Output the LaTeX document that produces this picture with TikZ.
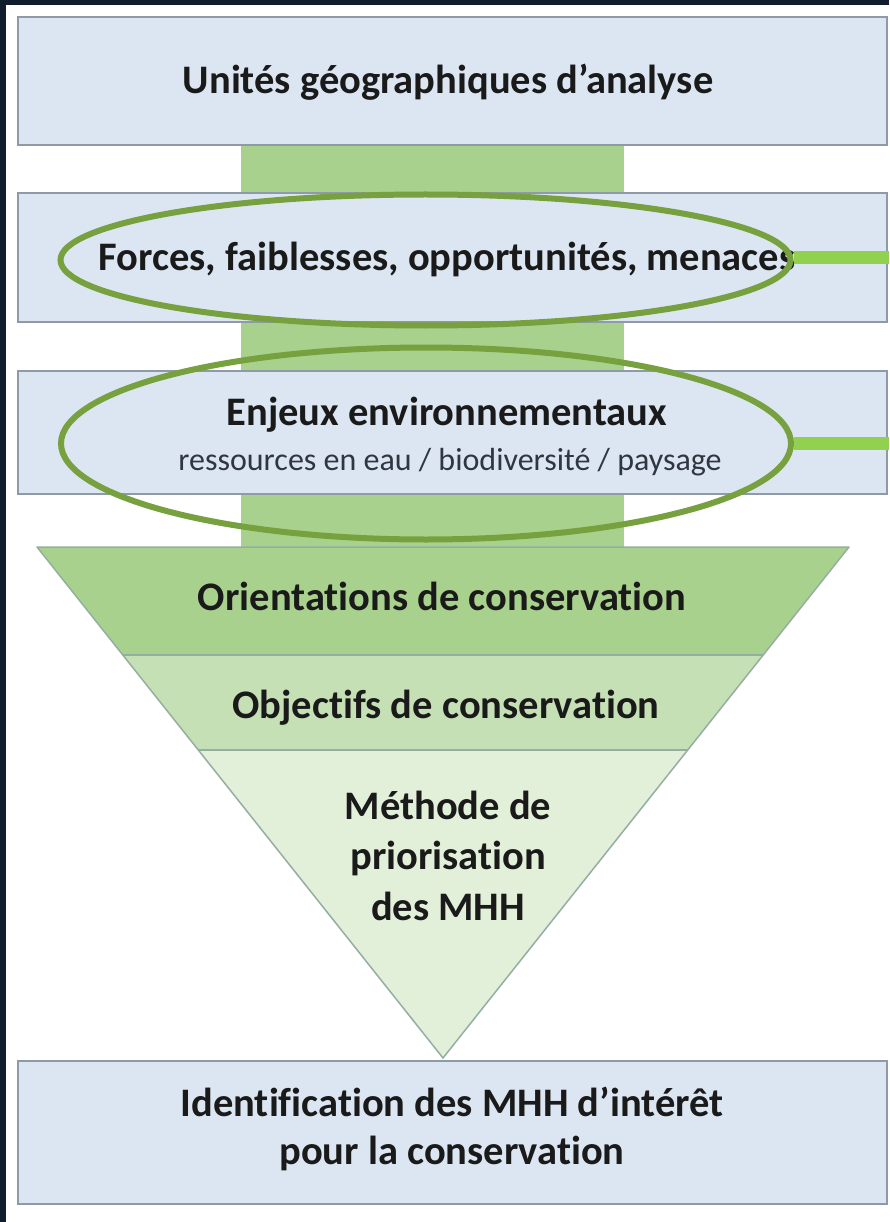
\documentclass[tikz,border=0pt]{standalone}
\usepackage{fontspec}
\setmainfont[Ligatures={NoCommon}]{Carlito}
\usetikzlibrary{shapes.geometric,calc}
\definecolor{navy}{HTML}{0F1D2C}
\definecolor{boxfill}{HTML}{DCE6F2}
\definecolor{boxline}{HTML}{8E9AA6}
\definecolor{bandgreen}{HTML}{A9D18E}
\definecolor{midgreen}{HTML}{C5E0B4}
\definecolor{lightgreen}{HTML}{E2EFD9}
\definecolor{ringgreen}{HTML}{77A03F}
\definecolor{linkgreen}{HTML}{92D050}
\definecolor{trline}{HTML}{94AFA0}
\definecolor{txt}{HTML}{1A1A1A}
\definecolor{subtxt}{HTML}{303640}
\tikzset{
  box/.style={draw=boxline, line width=2pt, fill=boxfill, inner sep=0pt, minimum width=869pt},
  lbl/.style={anchor=base, inner sep=0pt, text=txt, font=\fontsize{40.5}{46}\selectfont\bfseries},
  sublbl/.style={anchor=base, inner sep=0pt, text=subtxt, font=\fontsize{32}{36}\selectfont},
  ring/.style={ellipse, draw=ringgreen, line width=6pt, inner sep=0pt, minimum width=730pt},
  link/.style={draw=linkgreen, line width=13pt},
}
\begin{document}
\begin{tikzpicture}[x=1pt,y=-1pt]
\fill[navy] (0,0) rectangle (889,1222);
\fill[white] (6,5) rectangle (889,1222);
\useasboundingbox (0,0) rectangle (889,1222);
% green band
\fill[bandgreen] (241,145) rectangle (624,548);
% boxes
\node[box, minimum height=128pt] (b1) at (452.5,81) {};
\node[box, minimum height=129pt] (b2) at (452.5,257.5) {};
\node[box, minimum height=123pt] (b3) at (452.5,432.5) {};
\node[box, minimum height=143pt] (b4) at (452.5,1132.5) {};
\node[lbl] (b1t) at (448,94) {Unités géographiques d’analyse};
\node[lbl] (b2t) at (447,271) {Forces, faiblesses, opportunités, menaces};
\node[lbl] (b3t) at (447,425) {Enjeux environnementaux};
\node[sublbl] (b3s) at (450,470) {ressources en eau / biodiversité / paysage};
\node[lbl] (b4t) at (452,1116) {Identification des MHH d’intérêt};
\node[lbl] (b4s) at (452,1164) {pour la conservation};
% triangle
\coordinate (tl) at (37,547);
\coordinate (tr) at (849,547);
\coordinate (ap) at (443,1058);
\coordinate (l1) at ($(tl)!0.2114!(ap)$);
\coordinate (r1) at ($(tr)!0.2114!(ap)$);
\coordinate (l2) at ($(tl)!0.3973!(ap)$);
\coordinate (r2) at ($(tr)!0.3973!(ap)$);
\fill[bandgreen] (tl) -- (tr) -- (r1) -- (l1) -- cycle;
\fill[midgreen] (l1) -- (r1) -- (r2) -- (l2) -- cycle;
\fill[lightgreen] (l2) -- (r2) -- (ap) -- cycle;
\draw[trline, line width=1.5pt] (l1) -- (r1) (l2) -- (r2);
\draw[trline, line width=1.5pt, line join=round] (tl) -- (tr) -- (ap) -- cycle;
\node[lbl] (t1) at (442,610) {Orientations de conservation};
\node[lbl] (t2) at (446,718) {Objectifs de conservation};
\node[lbl] (t3a) at (448,819) {Méthode de};
\node[lbl] (t3b) at (448,869) {priorisation};
\node[lbl] (t3c) at (448,920) {des MHH};
% rings
\node[ring, minimum height=131pt] (e1) at (425.5,260) {};
\node[ring, minimum height=192pt] (e2) at (426,443.5) {};
\coordinate (o1) at (889,258);
\coordinate (o2) at (889,443);
\draw[link] (e1.east |- o1) -- (o1);
\draw[link] (e2.east |- o2) -- (o2);
\end{tikzpicture}
\end{document}
